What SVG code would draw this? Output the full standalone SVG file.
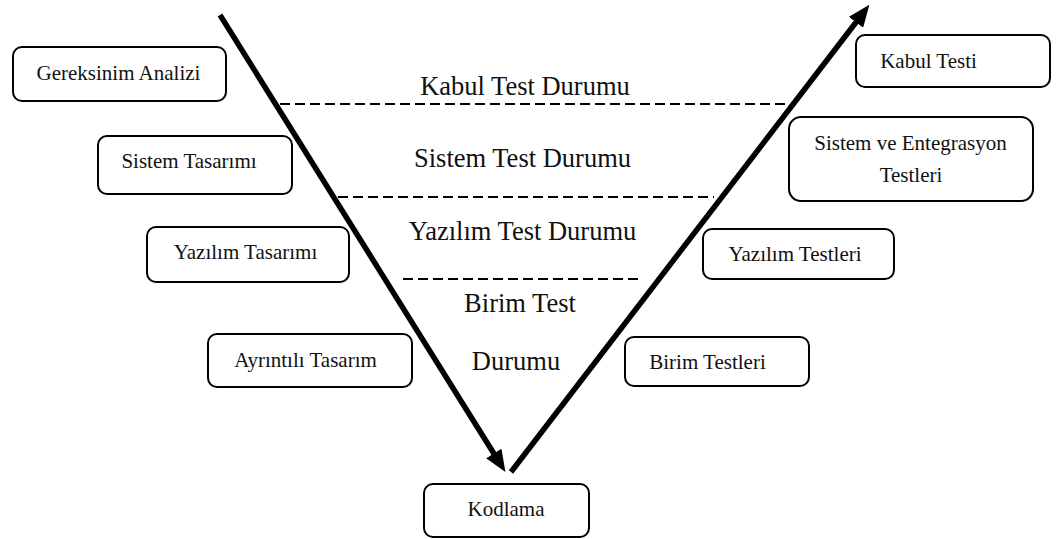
<svg xmlns="http://www.w3.org/2000/svg" width="1061" height="539" viewBox="0 0 1061 539">
<style>
.box{fill:#fff;stroke:#000;stroke-width:2}
.t{font-family:"Liberation Serif","Times New Roman",serif;font-size:21px;fill:#111;text-anchor:middle}
.m{font-family:"Liberation Serif","Times New Roman",serif;font-size:26.5px;fill:#111;text-anchor:middle}
.dash{stroke:#000;stroke-width:2;stroke-dasharray:10 5;fill:none}
.arrow{stroke:#000;stroke-width:5.5;fill:none}
</style>
<defs>
<marker id="ah" viewBox="0 0 22 18" refX="1" refY="9" markerWidth="22" markerHeight="18" markerUnits="userSpaceOnUse" orient="auto">
<path d="M0,0 L22,9 L0,18 z" fill="#000"/>
</marker>
</defs>
<rect width="1061" height="539" fill="#fff"/>
<g id="connectors">
<line class="arrow" x1="220" y1="15" x2="494.3" y2="454.3" marker-end="url(#ah)"/>
<line class="arrow" x1="511" y1="472" x2="856.6" y2="21.5" marker-end="url(#ah)"/>
<line class="dash" x1="280" y1="104" x2="790" y2="104"/>
<line class="dash" x1="338" y1="197" x2="714" y2="197"/>
<line class="dash" x1="403" y1="279" x2="640" y2="279"/>
</g>
<g id="labels">
<text class="m" x="525" y="95">Kabul Test Durumu</text>
<text class="m" x="522.5" y="167">Sistem Test Durumu</text>
<text class="m" x="522.5" y="240">Yazılım Test Durumu</text>
<text class="m" x="520" y="312">Birim Test</text>
<text class="m" x="516" y="370">Durumu</text>
</g>
<g id="gereksinim">
<rect class="box" x="13" y="47" width="213" height="54" rx="9"/>
<text class="t" x="118.5" y="80">Gereksinim Analizi</text>
</g>
<g id="sistem-tasarimi">
<rect class="box" x="98" y="136" width="194" height="58" rx="9"/>
<text class="t" x="189" y="168">Sistem Tasarımı</text>
</g>
<g id="yazilim-tasarimi">
<rect class="box" x="147" y="227" width="202" height="55" rx="9"/>
<text class="t" x="245.5" y="259">Yazılım Tasarımı</text>
</g>
<g id="ayrintili-tasarim">
<rect class="box" x="208" y="334" width="204" height="53" rx="9"/>
<text class="t" x="305.5" y="367">Ayrıntılı Tasarım</text>
</g>
<g id="kodlama">
<rect class="box" x="424" y="484" width="165" height="53" rx="9"/>
<text class="t" x="506" y="516">Kodlama</text>
</g>
<g id="kabul-testi">
<rect class="box" x="856" y="35" width="194" height="52" rx="9"/>
<text class="t" x="928.5" y="68">Kabul Testi</text>
</g>
<g id="sistem-entegrasyon">
<rect class="box" x="789" y="117" width="244" height="84" rx="12"/>
<text class="t" x="910.5" y="150">Sistem ve Entegrasyon</text>
<text class="t" x="911" y="182">Testleri</text>
</g>
<g id="yazilim-testleri">
<rect class="box" x="703" y="229" width="191" height="50" rx="9"/>
<text class="t" x="795" y="261">Yazılım Testleri</text>
</g>
<g id="birim-testleri">
<rect class="box" x="625" y="337" width="184" height="49" rx="9"/>
<text class="t" x="707.5" y="369">Birim Testleri</text>
</g>
</svg>
